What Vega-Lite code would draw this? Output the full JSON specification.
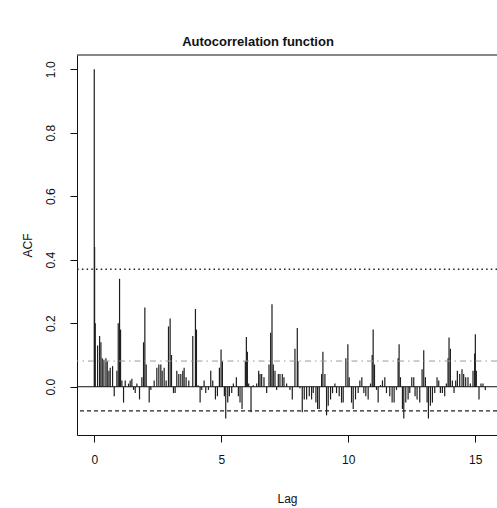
{
  "$schema": "https://vega.github.io/schema/vega-lite/v6.json",
  "width": 420,
  "height": 380,
  "autosize": "none",
  "padding": {"left": 77, "top": 55, "right": 0, "bottom": 73},
  "background": "white",
  "title": {"text": "Autocorrelation function", "anchor": "middle", "dx": -29, "offset": 6, "fontSize": 13, "fontWeight": "bold", "font": "Liberation Sans", "color": "#111"},
  "config": {"font": "Liberation Sans", "view": {"stroke": null}},
  "datasets": {
    "acf": [
      {"lag": 0, "acf": 1.0}, {"lag": 0.013, "acf": 0.44}, {"lag": 0.039, "acf": 0.2}, {"lag": 0.131, "acf": 0.13},
      {"lag": 0.21, "acf": 0.16}, {"lag": 0.262, "acf": 0.14}, {"lag": 0.315, "acf": 0.09}, {"lag": 0.38, "acf": 0.085},
      {"lag": 0.459, "acf": 0.09}, {"lag": 0.511, "acf": 0.08}, {"lag": 0.577, "acf": 0.05}, {"lag": 0.629, "acf": 0.06},
      {"lag": 0.721, "acf": 0.065}, {"lag": 0.786, "acf": -0.03}, {"lag": 0.891, "acf": 0.05}, {"lag": 0.944, "acf": 0.2},
      {"lag": 0.996, "acf": 0.34}, {"lag": 1.035, "acf": 0.18}, {"lag": 1.088, "acf": 0.02}, {"lag": 1.153, "acf": -0.05},
      {"lag": 1.219, "acf": 0.02}, {"lag": 1.35, "acf": 0.01}, {"lag": 1.415, "acf": 0.02}, {"lag": 1.481, "acf": 0.025},
      {"lag": 1.547, "acf": -0.01}, {"lag": 1.612, "acf": -0.02}, {"lag": 1.678, "acf": 0.01}, {"lag": 1.782, "acf": -0.04},
      {"lag": 1.874, "acf": 0.03}, {"lag": 1.94, "acf": 0.14}, {"lag": 1.992, "acf": 0.25}, {"lag": 2.045, "acf": 0.07},
      {"lag": 2.163, "acf": -0.05}, {"lag": 2.228, "acf": -0.01}, {"lag": 2.359, "acf": 0.02}, {"lag": 2.464, "acf": 0.06},
      {"lag": 2.543, "acf": 0.07}, {"lag": 2.621, "acf": 0.07}, {"lag": 2.674, "acf": 0.05}, {"lag": 2.752, "acf": 0.06},
      {"lag": 2.831, "acf": 0.02}, {"lag": 2.923, "acf": 0.19}, {"lag": 2.988, "acf": 0.215}, {"lag": 3.041, "acf": 0.1},
      {"lag": 3.119, "acf": -0.02}, {"lag": 3.185, "acf": -0.02}, {"lag": 3.25, "acf": 0.05}, {"lag": 3.329, "acf": 0.04},
      {"lag": 3.408, "acf": 0.04}, {"lag": 3.486, "acf": 0.05}, {"lag": 3.539, "acf": 0.06}, {"lag": 3.617, "acf": 0.03},
      {"lag": 3.722, "acf": 0.02}, {"lag": 3.879, "acf": 0.16}, {"lag": 3.984, "acf": 0.245}, {"lag": 4.024, "acf": 0.18},
      {"lag": 4.089, "acf": 0.005}, {"lag": 4.168, "acf": -0.05}, {"lag": 4.233, "acf": -0.01}, {"lag": 4.325, "acf": 0.02},
      {"lag": 4.391, "acf": -0.02}, {"lag": 4.496, "acf": -0.01}, {"lag": 4.587, "acf": 0.05}, {"lag": 4.666, "acf": 0.02},
      {"lag": 4.771, "acf": -0.04}, {"lag": 4.849, "acf": -0.03}, {"lag": 4.928, "acf": 0.06}, {"lag": 4.993, "acf": 0.117},
      {"lag": 5.046, "acf": 0.08}, {"lag": 5.124, "acf": -0.03}, {"lag": 5.177, "acf": -0.1}, {"lag": 5.256, "acf": -0.05},
      {"lag": 5.321, "acf": -0.03}, {"lag": 5.413, "acf": -0.02}, {"lag": 5.478, "acf": 0.01}, {"lag": 5.596, "acf": 0.03},
      {"lag": 5.675, "acf": -0.03}, {"lag": 5.74, "acf": -0.05}, {"lag": 5.819, "acf": -0.07}, {"lag": 5.95, "acf": 0.08},
      {"lag": 5.99, "acf": 0.157}, {"lag": 6.029, "acf": 0.11}, {"lag": 6.081, "acf": 0.01}, {"lag": 6.173, "acf": -0.08},
      {"lag": 6.265, "acf": 0.005}, {"lag": 6.396, "acf": 0.01}, {"lag": 6.474, "acf": 0.05}, {"lag": 6.527, "acf": 0.04},
      {"lag": 6.592, "acf": 0.04}, {"lag": 6.684, "acf": 0.03}, {"lag": 6.789, "acf": -0.02}, {"lag": 6.881, "acf": 0.07},
      {"lag": 6.946, "acf": 0.17}, {"lag": 6.999, "acf": 0.26}, {"lag": 7.051, "acf": 0.07}, {"lag": 7.117, "acf": 0.05},
      {"lag": 7.182, "acf": -0.01}, {"lag": 7.248, "acf": 0.04}, {"lag": 7.313, "acf": 0.04}, {"lag": 7.405, "acf": 0.04},
      {"lag": 7.471, "acf": 0.03}, {"lag": 7.575, "acf": 0.01}, {"lag": 7.706, "acf": -0.01}, {"lag": 7.798, "acf": -0.04},
      {"lag": 7.903, "acf": 0.12}, {"lag": 7.995, "acf": 0.185}, {"lag": 8.021, "acf": 0.08}, {"lag": 8.1, "acf": -0.005},
      {"lag": 8.191, "acf": -0.08}, {"lag": 8.27, "acf": -0.04}, {"lag": 8.362, "acf": -0.04}, {"lag": 8.467, "acf": -0.03},
      {"lag": 8.558, "acf": -0.04}, {"lag": 8.624, "acf": -0.02}, {"lag": 8.729, "acf": -0.05}, {"lag": 8.794, "acf": -0.07},
      {"lag": 8.86, "acf": -0.07}, {"lag": 8.952, "acf": 0.04}, {"lag": 9.004, "acf": 0.11}, {"lag": 9.083, "acf": 0.04},
      {"lag": 9.148, "acf": -0.09}, {"lag": 9.214, "acf": -0.06}, {"lag": 9.305, "acf": -0.04}, {"lag": 9.384, "acf": -0.02},
      {"lag": 9.476, "acf": 0.01}, {"lag": 9.541, "acf": -0.02}, {"lag": 9.646, "acf": -0.03}, {"lag": 9.738, "acf": -0.05},
      {"lag": 9.803, "acf": -0.05}, {"lag": 9.908, "acf": 0.09}, {"lag": 9.987, "acf": 0.134}, {"lag": 10.039, "acf": 0.03},
      {"lag": 10.131, "acf": -0.05}, {"lag": 10.197, "acf": -0.07}, {"lag": 10.288, "acf": -0.04}, {"lag": 10.393, "acf": -0.02},
      {"lag": 10.459, "acf": 0.02}, {"lag": 10.537, "acf": 0.03}, {"lag": 10.616, "acf": -0.02}, {"lag": 10.695, "acf": -0.03},
      {"lag": 10.786, "acf": -0.04}, {"lag": 10.878, "acf": 0.01}, {"lag": 10.944, "acf": 0.1}, {"lag": 10.983, "acf": 0.18},
      {"lag": 11.035, "acf": 0.07}, {"lag": 11.114, "acf": -0.01}, {"lag": 11.18, "acf": -0.05}, {"lag": 11.271, "acf": 0.005},
      {"lag": 11.35, "acf": 0.02}, {"lag": 11.442, "acf": 0.03}, {"lag": 11.507, "acf": -0.02}, {"lag": 11.638, "acf": -0.03},
      {"lag": 11.73, "acf": -0.05}, {"lag": 11.809, "acf": -0.05}, {"lag": 11.901, "acf": -0.01}, {"lag": 11.966, "acf": 0.09},
      {"lag": 12.005, "acf": 0.134}, {"lag": 12.058, "acf": 0.03}, {"lag": 12.136, "acf": -0.07}, {"lag": 12.189, "acf": -0.1},
      {"lag": 12.267, "acf": -0.05}, {"lag": 12.359, "acf": -0.04}, {"lag": 12.425, "acf": -0.02}, {"lag": 12.503, "acf": 0.03},
      {"lag": 12.582, "acf": 0.03}, {"lag": 12.634, "acf": -0.03}, {"lag": 12.713, "acf": -0.04}, {"lag": 12.818, "acf": -0.05},
      {"lag": 12.91, "acf": 0.055}, {"lag": 12.975, "acf": 0.115}, {"lag": 13.041, "acf": 0.03}, {"lag": 13.106, "acf": -0.05},
      {"lag": 13.159, "acf": -0.1}, {"lag": 13.237, "acf": -0.06}, {"lag": 13.316, "acf": -0.05}, {"lag": 13.408, "acf": -0.02},
      {"lag": 13.499, "acf": 0.03}, {"lag": 13.565, "acf": 0.02}, {"lag": 13.63, "acf": -0.02}, {"lag": 13.709, "acf": -0.02},
      {"lag": 13.801, "acf": -0.03}, {"lag": 13.866, "acf": 0.01}, {"lag": 13.932, "acf": 0.09}, {"lag": 13.971, "acf": 0.155},
      {"lag": 14.024, "acf": 0.12}, {"lag": 14.102, "acf": 0.02}, {"lag": 14.168, "acf": -0.02}, {"lag": 14.233, "acf": 0.02},
      {"lag": 14.299, "acf": 0.05}, {"lag": 14.391, "acf": 0.04}, {"lag": 14.482, "acf": 0.055}, {"lag": 14.548, "acf": 0.04},
      {"lag": 14.627, "acf": 0.03}, {"lag": 14.718, "acf": 0.03}, {"lag": 14.81, "acf": 0.01}, {"lag": 14.915, "acf": 0.05},
      {"lag": 14.98, "acf": 0.105}, {"lag": 15.007, "acf": 0.165}, {"lag": 15.046, "acf": 0.05}, {"lag": 15.151, "acf": -0.04},
      {"lag": 15.229, "acf": 0.01}, {"lag": 15.308, "acf": 0.01}, {"lag": 15.4, "acf": -0.01}
    ]
  },
  "layer": [
    {
      "data": {"name": "acf"},
      "mark": {"type": "rule", "color": "#1e1e1e", "strokeWidth": 1.2},
      "encoding": {
        "x": {
          "field": "lag", "type": "quantitative",
          "scale": {"domain": [-0.68, 15.86], "nice": false, "zero": false},
          "axis": {"values": [0, 5, 10, 15], "title": "Lag", "grid": false, "domain": true, "domainColor": "#111", "tickColor": "#111", "tickSize": 7, "labelPadding": 12, "labelFontSize": 12, "labelColor": "#111", "labelFont": "Liberation Sans", "titleFontSize": 12, "titleFontWeight": "normal", "titleColor": "#111", "titleFont": "Liberation Sans", "titlePadding": 28}
        },
        "y": {
          "field": "acf", "type": "quantitative",
          "scale": {"domain": [-0.152, 1.045], "nice": false, "zero": false},
          "axis": {"values": [0, 0.2, 0.4, 0.6, 0.8, 1.0], "format": ".1f", "title": "ACF", "grid": false, "domain": true, "domainColor": "#111", "tickColor": "#111", "tickSize": 7, "labelAngle": 270, "labelAlign": "center", "labelBaseline": "alphabetic", "labelPadding": 16, "labelFontSize": 12, "labelColor": "#111", "labelFont": "Liberation Sans", "titleFontSize": 12, "titleFontWeight": "normal", "titleColor": "#111", "titleFont": "Liberation Sans", "titlePadding": 10}
        },
        "y2": {"datum": 0}
      }
    },
    {
      "data": {"values": [{"line": "top"}]},
      "mark": {"type": "rule", "color": "#111", "strokeWidth": 1},
      "encoding": {"y": {"datum": 1.045}}
    },
    {
      "data": {"values": [{"line": "zero"}]},
      "mark": {"type": "rule", "color": "#111", "strokeWidth": 1},
      "encoding": {"y": {"datum": 0}}
    },
    {
      "data": {"values": [{"line": "upper"}]},
      "mark": {"type": "rule", "color": "#222", "strokeWidth": 1.6, "strokeDash": [1.5, 3.2]},
      "encoding": {"y": {"datum": 0.37}}
    },
    {
      "data": {"values": [{"line": "ci_up"}]},
      "mark": {"type": "rule", "color": "#9a9a9a", "strokeWidth": 1, "strokeDash": [6, 4, 1.5, 4]},
      "encoding": {"y": {"datum": 0.081}}
    },
    {
      "data": {"values": [{"line": "ci_low"}]},
      "mark": {"type": "rule", "color": "#222", "strokeWidth": 1.2, "strokeDash": [4, 3]},
      "encoding": {"y": {"datum": -0.076}}
    }
  ]
}
